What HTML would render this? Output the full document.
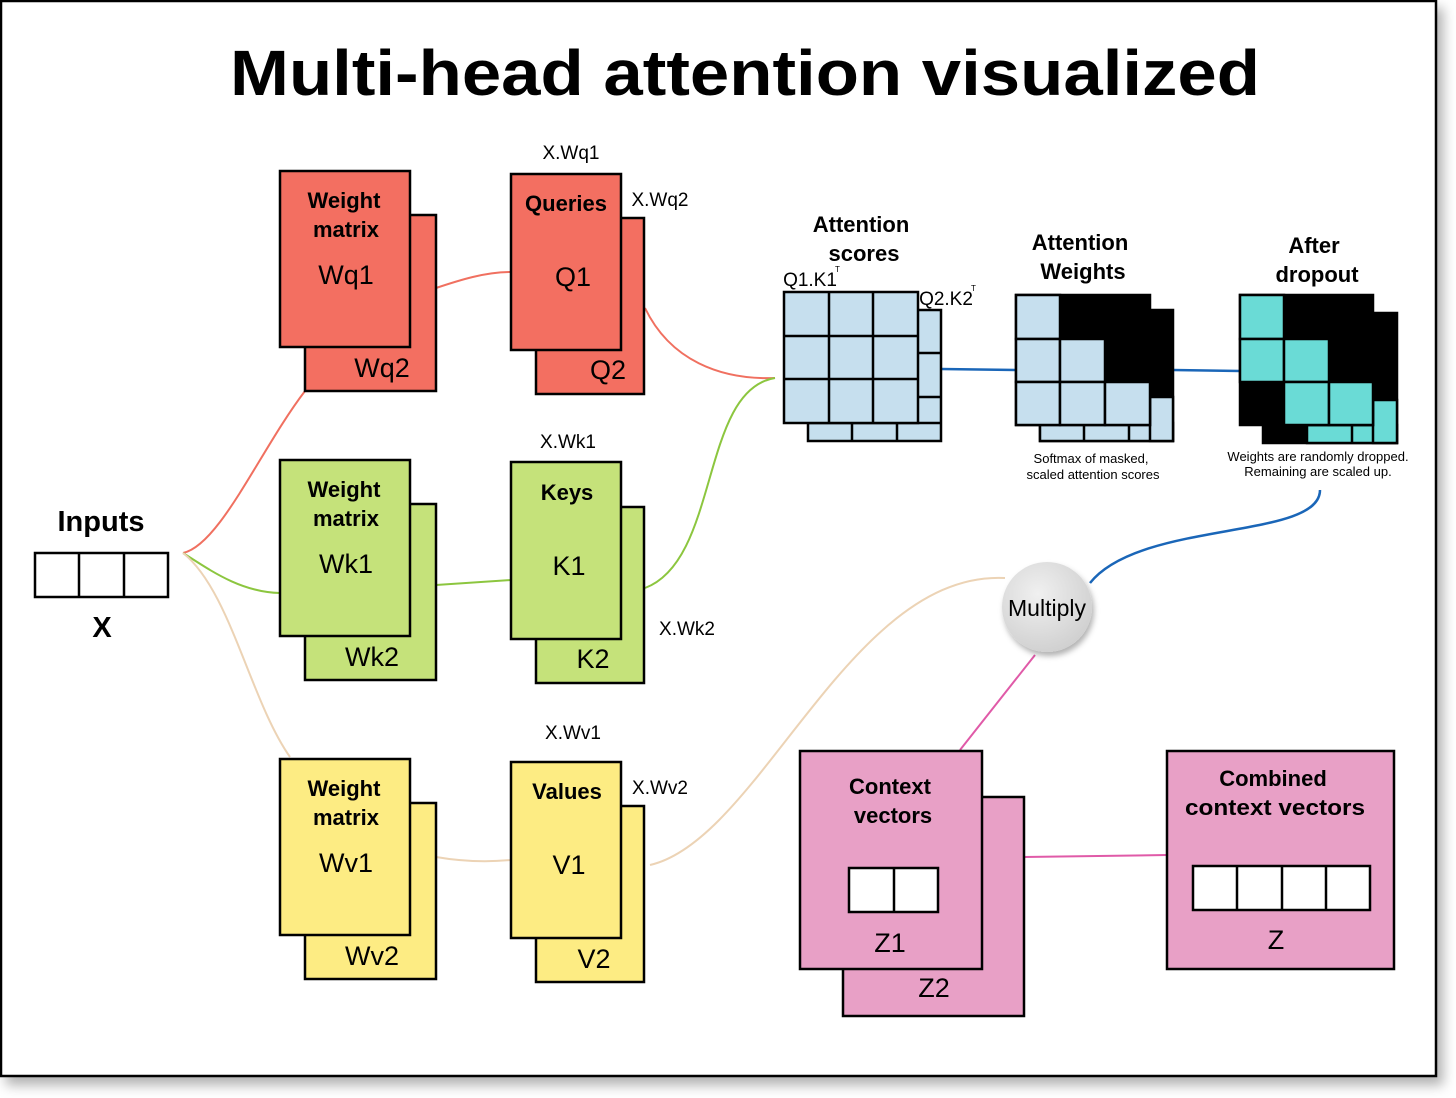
<!DOCTYPE html>
<html><head><meta charset="utf-8"><style>
html,body{margin:0;padding:0;background:#fff;width:1456px;height:1098px;overflow:hidden}
svg{display:block}
text{font-family:"Liberation Sans",sans-serif;fill:#000}
.b{font-weight:bold}
</style></head><body>
<svg width="1456" height="1098" viewBox="0 0 1456 1098" xmlns="http://www.w3.org/2000/svg">
<defs>
<filter id="sh" x="-5%" y="-5%" width="110%" height="110%"><feDropShadow dx="6" dy="8" stdDeviation="6" flood-color="#000" flood-opacity="0.3"/></filter>
<filter id="sh2" x="-50%" y="-50%" width="200%" height="200%"><feDropShadow dx="2" dy="4" stdDeviation="3" flood-color="#000" flood-opacity="0.3"/></filter>
<radialGradient id="cg" cx="40%" cy="35%" r="70%"><stop offset="0" stop-color="#f0f0f0"/><stop offset="1" stop-color="#cfcfcf"/></radialGradient>
</defs>
<rect x="1" y="1" width="1435" height="1075" fill="#fff" stroke="#000" stroke-width="2.5" filter="url(#sh)"/>
<text x="230" y="95" class="b" font-size="64" textLength="1030" lengthAdjust="spacingAndGlyphs">Multi-head attention visualized</text>

<g fill="none" stroke-width="2">
<path d="M183,553 C220,545 260,450 305,391" stroke="#f07060"/>
<path d="M183,553 C210,570 240,592 280,593" stroke="#8cc63f"/>
<path d="M183,553 C230,590 250,700 290,757" stroke="#ecd3b5"/>
<path d="M436,288 C460,280 485,272 511,272" stroke="#f07060"/>
<path d="M436,585 L511,580" stroke="#8cc63f"/>
<path d="M436,857 C465,862 490,862 511,860" stroke="#ecd3b5"/>
<path d="M645,308 C670,360 720,380 775,378" stroke="#f07060"/>
<path d="M645,588 C720,560 700,390 775,378" stroke="#8cc63f"/>
<path d="M650,865 C760,840 850,570 1005,578" stroke="#ecd3b5"/>
<path d="M941,369 L1016,370" stroke="#1a66b8" stroke-width="2.5"/>
<path d="M1173,370 L1240,371" stroke="#1a66b8" stroke-width="2.5"/>
<path d="M1090,583 C1140,520 1320,540 1320,490" stroke="#1a66b8" stroke-width="2.5"/>
<path d="M1035,655 L960,750" stroke="#e05aa8"/>
<path d="M1024,857 L1167,855" stroke="#e05aa8"/>
</g>

<g stroke="#000" stroke-width="2.5">
<rect x="305" y="215" width="131" height="176" fill="#f36f61"/>
<rect x="280" y="171" width="130" height="176" fill="#f36f61"/>
<rect x="536" y="218" width="108" height="176" fill="#f36f61"/>
<rect x="511" y="174" width="110" height="176" fill="#f36f61"/>
<rect x="305" y="504" width="131" height="176" fill="#c5e27a"/>
<rect x="280" y="460" width="130" height="176" fill="#c5e27a"/>
<rect x="536" y="507" width="108" height="176" fill="#c5e27a"/>
<rect x="511" y="462" width="110" height="177" fill="#c5e27a"/>
<rect x="305" y="803" width="131" height="176" fill="#fdec83"/>
<rect x="280" y="759" width="130" height="176" fill="#fdec83"/>
<rect x="536" y="806" width="108" height="176" fill="#fdec83"/>
<rect x="511" y="762" width="110" height="176" fill="#fdec83"/>
<rect x="35" y="553" width="133" height="44" fill="#fff"/>
<line x1="79" y1="553" x2="79" y2="597"/><line x1="124" y1="553" x2="124" y2="597"/>
<rect x="843" y="797" width="181" height="219" fill="#e8a0c6"/>
<rect x="800" y="751" width="182" height="218" fill="#e8a0c6"/>
<rect x="849" y="868" width="89" height="44" fill="#fff"/>
<line x1="894" y1="868" x2="894" y2="912"/>
<rect x="1167" y="751" width="227" height="218" fill="#e8a0c6"/>
<rect x="1193" y="866" width="177" height="44" fill="#fff"/>
<line x1="1237" y1="866" x2="1237" y2="910"/><line x1="1282" y1="866" x2="1282" y2="910"/><line x1="1326" y1="866" x2="1326" y2="910"/>
</g>

<g stroke="#000" stroke-width="2.5">
<rect x="808" y="310" width="133" height="131" fill="#c6dfee"/>
<line x1="808" y1="423" x2="941" y2="423"/><line x1="852" y1="423" x2="852" y2="441"/><line x1="897" y1="423" x2="897" y2="441"/>
<line x1="918" y1="353" x2="941" y2="353"/><line x1="918" y1="397" x2="941" y2="397"/>
<rect x="784" y="292" width="134" height="131" fill="#c6dfee"/>
<line x1="829" y1="292" x2="829" y2="423"/><line x1="873" y1="292" x2="873" y2="423"/>
<line x1="784" y1="336" x2="918" y2="336"/><line x1="784" y1="379" x2="918" y2="379"/>
</g>
<g stroke="#000" stroke-width="2.5">
<rect x="1040" y="310" width="133" height="131" fill="#000"/>
<rect x="1040" y="423" width="133" height="18" fill="#c6dfee"/>
<rect x="1150" y="397" width="23" height="44" fill="#c6dfee"/>
<line x1="1084" y1="423" x2="1084" y2="441"/><line x1="1129" y1="423" x2="1129" y2="441"/>
<rect x="1016" y="295" width="134" height="130" fill="#000"/>
<rect x="1016" y="295" width="44" height="44" fill="#c6dfee"/>
<rect x="1016" y="339" width="44" height="43" fill="#c6dfee"/>
<rect x="1060" y="339" width="45" height="43" fill="#c6dfee"/>
<rect x="1016" y="382" width="44" height="43" fill="#c6dfee"/>
<rect x="1060" y="382" width="45" height="43" fill="#c6dfee"/>
<rect x="1105" y="382" width="45" height="43" fill="#c6dfee"/>
</g>
<g stroke="#000" stroke-width="2.5">
<rect x="1263" y="313" width="134" height="130" fill="#000"/>
<rect x="1307" y="425" width="90" height="18" fill="#6adbd6"/>
<rect x="1373" y="400" width="24" height="43" fill="#6adbd6"/>
<line x1="1352" y1="425" x2="1352" y2="443"/>
<rect x="1240" y="295" width="133" height="130" fill="#000"/>
<rect x="1240" y="295" width="44" height="44" fill="#6adbd6"/>
<rect x="1240" y="339" width="44" height="43" fill="#6adbd6"/>
<rect x="1284" y="339" width="45" height="43" fill="#6adbd6"/>
<rect x="1284" y="382" width="45" height="43" fill="#6adbd6"/>
<rect x="1329" y="382" width="44" height="43" fill="#6adbd6"/>
</g>

<circle cx="1047" cy="607" r="45" fill="url(#cg)" filter="url(#sh2)"/>
<text x="1047" y="616" text-anchor="middle" font-size="23">Multiply</text>

<g font-size="22">
<text x="344" y="208" text-anchor="middle" class="b">Weight</text>
<text x="346" y="237" text-anchor="middle" class="b">matrix</text>
<text x="344" y="497" text-anchor="middle" class="b">Weight</text>
<text x="346" y="526" text-anchor="middle" class="b">matrix</text>
<text x="344" y="796" text-anchor="middle" class="b">Weight</text>
<text x="346" y="825" text-anchor="middle" class="b">matrix</text>
<text x="566" y="211" text-anchor="middle" class="b">Queries</text>
<text x="567" y="500" text-anchor="middle" class="b">Keys</text>
<text x="567" y="799" text-anchor="middle" class="b">Values</text>
<text x="861" y="232" text-anchor="middle" class="b">Attention</text>
<text x="864" y="261" text-anchor="middle" class="b">scores</text>
<text x="1080" y="250" text-anchor="middle" class="b">Attention</text>
<text x="1083" y="279" text-anchor="middle" class="b">Weights</text>
<text x="1314" y="253" text-anchor="middle" class="b">After</text>
<text x="1317" y="282" text-anchor="middle" class="b">dropout</text>
<text x="890" y="794" text-anchor="middle" class="b">Context</text>
<text x="893" y="823" text-anchor="middle" class="b">vectors</text>
<text x="1273" y="786" text-anchor="middle" class="b">Combined</text>
<text x="1275" y="815" text-anchor="middle" class="b" textLength="180" lengthAdjust="spacingAndGlyphs">context vectors</text>
</g>
<g font-size="27" text-anchor="middle">
<text x="346" y="284">Wq1</text><text x="382" y="377">Wq2</text>
<text x="573" y="286">Q1</text><text x="608" y="379">Q2</text>
<text x="346" y="573">Wk1</text><text x="372" y="666">Wk2</text>
<text x="569" y="575">K1</text><text x="593" y="668">K2</text>
<text x="346" y="872">Wv1</text><text x="372" y="965">Wv2</text>
<text x="569" y="874">V1</text><text x="594" y="968">V2</text>
<text x="890" y="952">Z1</text><text x="934" y="997">Z2</text>
<text x="1276" y="949">Z</text>
</g>
<text x="101" y="531" text-anchor="middle" class="b" font-size="29">Inputs</text>
<text x="102" y="637" text-anchor="middle" class="b" font-size="29">X</text>
<g font-size="19" text-anchor="middle">
<text x="571" y="159">X.Wq1</text><text x="660" y="206">X.Wq2</text>
<text x="568" y="448">X.Wk1</text><text x="687" y="635">X.Wk2</text>
<text x="573" y="739">X.Wv1</text><text x="660" y="794">X.Wv2</text>
<text x="810" y="286">Q1.K1</text><text x="946" y="305">Q2.K2</text>
</g>
<text x="835" y="272" font-size="8">T</text><text x="971" y="291" font-size="8">T</text>
<g font-size="13" text-anchor="middle" fill="#222">
<text x="1091" y="463">Softmax of masked,</text>
<text x="1093" y="479">scaled attention scores</text>
<text x="1318" y="461">Weights are randomly dropped.</text>
<text x="1318" y="476">Remaining are scaled up.</text>
</g>
</svg>
</body></html>
